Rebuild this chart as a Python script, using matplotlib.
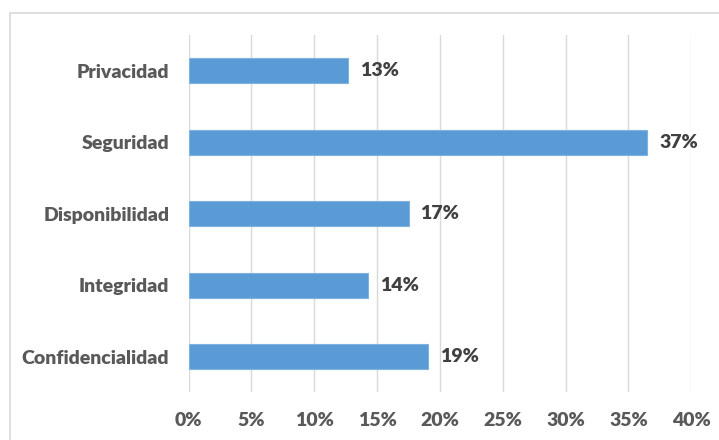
import matplotlib.pyplot as plt
from matplotlib.patches import Rectangle

categorias = ['Privacidad', 'Seguridad', 'Disponibilidad', 'Integridad', 'Confidencialidad']
valores = [12.7, 36.5, 17.5, 14.3, 19.05]
etiquetas = ['13%', '37%', '17%', '14%', '19%']
ticks = [0, 5, 10, 15, 20, 25, 30, 35, 40]

plt.rcParams['font.family'] = ['Lato', 'DejaVu Sans']

fig = plt.figure(figsize=(7.19, 4.40), dpi=100)
ax = fig.add_axes([0.2624, 0.108, 0.699, 0.8125])

# borde exterior del grafico
fig.patches.append(Rectangle((10 / 719, -0.1), 1.2, 1 - 13 / 440 + 0.1,
                             transform=fig.transFigure, fill=False,
                             edgecolor='#D9D9D9', linewidth=1.2))

y = list(range(len(categorias)))[::-1]
ax.barh(y, valores, height=0.35, color='#5B9BD5', edgecolor='#7FB2E0',
        linewidth=0.8, zorder=3)

for yi, v, t in zip(y, valores, etiquetas):
    ax.text(v + 0.95, yi, t, va='center', ha='left', fontsize=14,
            fontweight='heavy', color='#404040')

ax.set_xlim(0, 40)
ax.set_ylim(-0.5, len(categorias) - 0.5)
ax.set_xticks(ticks)
ax.set_xticklabels([f'{t}%' for t in ticks])
ax.set_yticks(y)
ax.set_yticklabels(categorias)
ax.tick_params(axis='both', length=0, labelsize=14, labelcolor='#595959')
ax.tick_params(axis='x', pad=14)
ax.tick_params(axis='y', pad=14)
for lbl in ax.get_xticklabels() + ax.get_yticklabels():
    lbl.set_fontweight('heavy')

ax.grid(axis='x', color='#D9D9D9', linewidth=1, zorder=0)
for s in ax.spines.values():
    s.set_visible(False)

fig.savefig('out.png', dpi=100)
